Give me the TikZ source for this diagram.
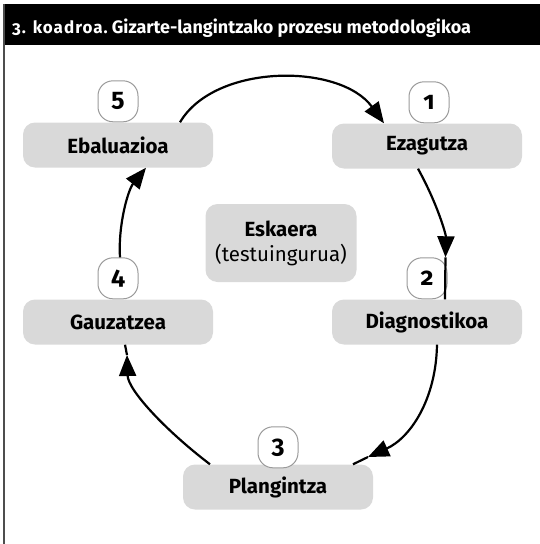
\documentclass[tikz,border=0pt]{standalone}
\usepackage{fontspec}
\setmainfont{Fira Sans}[Numbers=OldStyle]
\usetikzlibrary{arrows.meta,calc}
\definecolor{boxgray}{HTML}{D9D9D9}
\definecolor{numgray}{HTML}{9A9A9A}
\definecolor{framegray}{HTML}{4D4D4D}
\tikzset{
  stepbox/.style={rounded corners=12pt, fill=boxgray, minimum width=190pt, minimum height=45pt,
    inner sep=0pt, font=\fontsize{20.5}{24}\selectfont\bfseries},
  numbox/.style={draw=numgray, line width=1pt, fill=white, rounded corners=15pt,
    minimum width=40pt, minimum height=41pt, inner sep=0pt, font=\fontsize{25}{28}\selectfont\bfseries},
  conn/.style={line width=2.2pt, black},
  arr/.style={conn, -{Triangle[length=21pt,width=17pt]}}
}
\begin{document}
\begin{tikzpicture}[x=1pt,y=-1pt]
\useasboundingbox (0,0) rectangle (540,544);
\fill[black] (4,4) rectangle (540,45);
\draw[framegray, line width=2pt] (4,4) -- (4,544);
\node[anchor=base west, text=white, inner sep=0pt] (title) at (12,33)
  {{\fontsize{17}{20}\selectfont\bfseries\addfontfeature{LetterSpace=6}3. koadroa.}\hspace{4pt}{\fontsize{18}{22}\selectfont\bfseries Gizarte-langintzako prozesu metodologikoa}};

% step boxes
\node[stepbox] (eba) at (118,145) {Ebaluazioa};
\node[stepbox] (eza) at (427,146) {Ezagutza};
\node[stepbox] (dia) at (427,322) {Diagnostikoa};
\node[stepbox] (gau) at (118,322) {Gauzatzea};
\node[stepbox] (pla) at (278,487) {Plangintza};
\node[stepbox, minimum width=151pt, minimum height=78pt, align=center, font=\fontsize{20.5}{25}\selectfont]
  (esk) at (281,243) {\textbf{Eskaera}\\(testuingurua)};

% number badges
\node[numbox, anchor=south] (c5) at (eba.north) {5};
\node[numbox, anchor=south] (c1) at ($(eza.north)+(2,0)$) {1};
\node[numbox, anchor=south] (c2) at (dia.north) {2};
\node[numbox, anchor=south] (c4) at (gau.north) {4};
\node[numbox, anchor=south] (c3) at ($(pla.north)+(0,4)$) {3};

% connector helper points
\coordinate (t2) at ($(c2.north east)+(-2,0)$);
\coordinate (t3) at (368,457);
\coordinate (t4) at (127,355);

% cycle connectors
\draw[arr] ($(eba.north)+(62,0)$) .. controls (215,63) and (340,63) .. ($(eza.north)+(-43,0)$);
\draw[arr] ($(eza.south)+(-9,0)$) .. controls (438,205) and (446,235) .. (t2);
\draw[conn] (t2) -- ($(dia.north)+(18,0)$);
\draw[arr] ($(dia.south)+(10,0)$) .. controls (436,400) and (410,438) .. (t3);
\draw[conn] (t3) -- ($(pla.north)+(75,0)$);
\draw[arr] ($(pla.north)+(-68,0)$) .. controls (165,430) and (128,390) .. (t4);
\draw[conn] (t4) -- ($(gau.south)+(7,0)$);
\draw[arr] ($(c4.north)+(2,0)$) .. controls (118,225) and (128,190) .. ($(eba.south)+(28,0)$);
\end{tikzpicture}
\end{document}
